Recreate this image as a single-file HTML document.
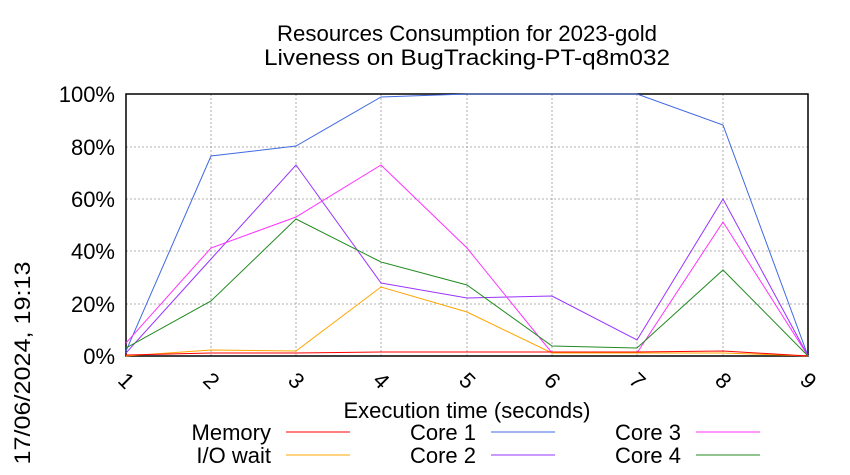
<!DOCTYPE html>
<html><head><meta charset="utf-8"><style>body{margin:0;background:#fff}svg{display:block}text{font-family:"Liberation Sans",sans-serif;fill:#000}</style></head><body>
<svg width="850" height="475" viewBox="0 0 850 475" xmlns="http://www.w3.org/2000/svg">
<rect width="850" height="475" fill="#fff"/>
<text x="467" y="41" font-size="22" text-anchor="middle" textLength="380" lengthAdjust="spacingAndGlyphs">Resources Consumption for 2023-gold</text>
<text x="467" y="65" font-size="22" text-anchor="middle" textLength="406" lengthAdjust="spacingAndGlyphs">Liveness on BugTracking-PT-q8m032</text>
<g stroke="#999" stroke-width="0.8" stroke-dasharray="2,2">
<line x1="126" y1="147" x2="808" y2="147"/><line x1="126" y1="199" x2="808" y2="199"/><line x1="126" y1="251" x2="808" y2="251"/><line x1="126" y1="304" x2="808" y2="304"/>
<line x1="211" y1="94" x2="211" y2="356"/><line x1="296" y1="94" x2="296" y2="356"/><line x1="381" y1="94" x2="381" y2="356"/><line x1="467" y1="94" x2="467" y2="356"/><line x1="552" y1="94" x2="552" y2="356"/><line x1="637" y1="94" x2="637" y2="356"/><line x1="723" y1="94" x2="723" y2="356"/>
</g>
<rect x="126" y="94" width="682" height="262" fill="none" stroke="#000" stroke-width="1.5"/>
<g font-size="22" text-anchor="end">
<text x="115" y="102">100%</text><text x="115" y="155">80%</text><text x="115" y="207">60%</text><text x="115" y="259">40%</text><text x="115" y="312">20%</text><text x="115" y="364">0%</text>
</g>
<g font-size="22" text-anchor="middle">
<text transform="translate(126,381) rotate(45)" dy="7">1</text>
<text transform="translate(211,381) rotate(45)" dy="7">2</text>
<text transform="translate(296,381) rotate(45)" dy="7">3</text>
<text transform="translate(381,381) rotate(45)" dy="7">4</text>
<text transform="translate(467,381) rotate(45)" dy="7">5</text>
<text transform="translate(552,381) rotate(45)" dy="7">6</text>
<text transform="translate(637,381) rotate(45)" dy="7">7</text>
<text transform="translate(723,381) rotate(45)" dy="7">8</text>
<text transform="translate(808,381) rotate(45)" dy="7">9</text>
</g>
<text x="467" y="418" font-size="22" text-anchor="middle">Execution time (seconds)</text>
<text transform="translate(30,363) rotate(-90)" font-size="22" text-anchor="middle" textLength="203" lengthAdjust="spacingAndGlyphs">17/06/2024, 19:13</text>
<g fill="none" stroke-width="1">
<polyline stroke="#4169e1" points="126,351 211,156 296,146 381,97 467,94 552,94 637,94 723,125 808,356"/>
<polyline stroke="#9933ff" points="126,353 211,259 296,165 381,283 467,298 552,296 637,340 723,199 808,356"/>
<polyline stroke="#ff33ff" points="126,343 211,248 296,217 381,165 467,248 552,353 637,353 723,222 808,356"/>
<polyline stroke="#228b22" points="126,348 211,301 296,219 381,262 467,285 552,346 637,348 723,270 808,356"/>
<polyline stroke="#ffa500" points="126,356 211,350 296,351 381,287 467,312 552,353 637,353 723,353 808,356"/>
<polyline stroke="#ff0000" points="126,355 211,353 296,353 381,352 467,352 552,352 637,352 723,351 808,356"/>
</g>
<g font-size="22" text-anchor="end">
<text x="271" y="440">Memory</text><text x="271" y="463">I/O wait</text>
<text x="476" y="440">Core 1</text><text x="476" y="463">Core 2</text>
<text x="681" y="440">Core 3</text><text x="681" y="463">Core 4</text>
</g>
<g stroke-width="1">
<line x1="286" y1="432" x2="350" y2="432" stroke="#ff0000"/>
<line x1="286" y1="455" x2="350" y2="455" stroke="#ffa500"/>
<line x1="491" y1="432" x2="555" y2="432" stroke="#4169e1"/>
<line x1="491" y1="455" x2="555" y2="455" stroke="#9933ff"/>
<line x1="696" y1="432" x2="760" y2="432" stroke="#ff33ff"/>
<line x1="696" y1="455" x2="760" y2="455" stroke="#228b22"/>
</g>
</svg>
</body></html>
